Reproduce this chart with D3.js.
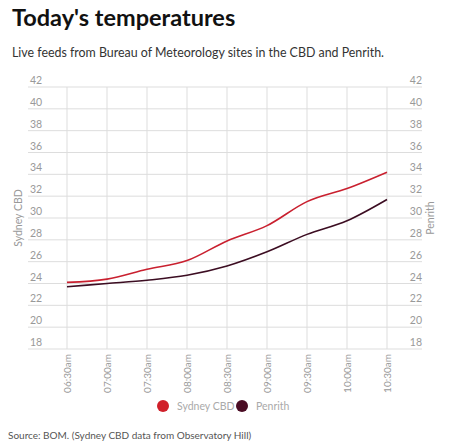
<!DOCTYPE html>
<html>
<head>
<meta charset="utf-8">
<script src="https://cdn.jsdelivr.net/npm/d3@7"></script>
<style>
  body { margin: 0; background: #fff; }
  svg { display: block; font-family: Lato, "Open Sans", sans-serif; }
</style>
</head>
<body>
<svg id="chart"></svg>
<script>
const times = ["06:30am", "07:00am", "07:30am", "08:00am", "08:30am", "09:00am", "09:30am", "10:00am", "10:30am"];
const sydneyCBD = [24.1, 24.4, 25.3, 26.1, 27.9, 29.3, 31.5, 32.7, 34.2];
const penrith = [23.7, 24.0, 24.3, 24.75, 25.6, 26.9, 28.5, 29.75, 31.7];
const yTicks = [18, 20, 22, 24, 26, 28, 30, 32, 34, 36, 38, 40, 42];

const width = 450, height = 448;
const margin = { top: 87, bottom: 99, left: 67, right: 62 };

const svg = d3.select("#chart").attr("width", width).attr("height", height);

// title and subtitle
svg.append("text")
  .attr("x", 12).attr("y", 26)
  .style("font-size", "23.5px").style("font-weight", 700).attr("fill", "#111")
  .text("Today's temperatures");

svg.append("text")
  .attr("x", 12).attr("y", 57)
  .style("font-size", "12.4px").attr("fill", "#333")
  .text("Live feeds from Bureau of Meteorology sites in the CBD and Penrith.");

const x = d3.scalePoint()
  .domain(times)
  .range([margin.left, width - margin.right - 1]);

const y = d3.scaleLinear()
  .domain([18, 42])
  .range([height - margin.bottom, margin.top]);

// horizontal grid
svg.append("g")
  .selectAll("line")
  .data(yTicks)
  .enter().append("line")
  .attr("x1", 28).attr("x2", 422)
  .attr("y1", d => y(d)).attr("y2", d => y(d))
  .attr("stroke", "#ddd").attr("stroke-width", 1);

// vertical grid
svg.append("g")
  .selectAll("line")
  .data(times)
  .enter().append("line")
  .attr("x1", d => x(d)).attr("x2", d => x(d))
  .attr("y1", y(42)).attr("y2", y(18))
  .attr("stroke", "#ddd").attr("stroke-width", 1);

// left and right tick labels
svg.append("g")
  .selectAll("text")
  .data(yTicks)
  .enter().append("text")
  .attr("x", 30).attr("y", d => y(d) - 3)
  .style("font-size", "10.5px").attr("fill", "#999")
  .text(d => d);

svg.append("g")
  .selectAll("text")
  .data(yTicks)
  .enter().append("text")
  .attr("x", 422).attr("y", d => y(d) - 3)
  .attr("text-anchor", "end")
  .style("font-size", "10.5px").attr("fill", "#999")
  .text(d => d);

// axis titles
svg.append("text")
  .attr("transform", `translate(22,${(y(42) + y(18)) / 2}) rotate(-90)`)
  .attr("text-anchor", "middle")
  .style("font-size", "10.5px").attr("fill", "#999")
  .text("Sydney CBD");

svg.append("text")
  .attr("transform", `translate(434,${(y(42) + y(18)) / 2}) rotate(-90)`)
  .attr("text-anchor", "middle")
  .style("font-size", "10.5px").attr("fill", "#999")
  .text("Penrith");

// x tick labels
svg.append("g")
  .selectAll("text")
  .data(times)
  .enter().append("text")
  .attr("transform", d => `translate(${x(d) + 3.5},${y(18) + 5}) rotate(-90)`)
  .attr("text-anchor", "end")
  .style("font-size", "10px").attr("fill", "#999")
  .text(d => d);

// lines
const line = d3.line()
  .x((d, i) => x(times[i]))
  .y(d => y(d))
  .curve(d3.curveMonotoneX);

svg.append("path")
  .datum(penrith)
  .attr("d", line)
  .attr("fill", "none")
  .attr("stroke", "#3c0d22")
  .attr("stroke-width", 1.6);

svg.append("path")
  .datum(sydneyCBD)
  .attr("d", line)
  .attr("fill", "none")
  .attr("stroke", "#c9202f")
  .attr("stroke-width", 1.6);

// legend
const legend = svg.append("g").attr("transform", "translate(163,406)");
legend.append("circle").attr("cx", 0).attr("cy", 0).attr("r", 6).attr("fill", "#d0202a");
legend.append("text").attr("x", 14).attr("y", 4)
  .style("font-size", "10.5px").attr("fill", "#aaa").text("Sydney CBD");
legend.append("circle").attr("cx", 79).attr("cy", 0).attr("r", 6).attr("fill", "#4a0c24");
legend.append("text").attr("x", 93).attr("y", 4)
  .style("font-size", "10.5px").attr("fill", "#aaa").text("Penrith");

// source
svg.append("text")
  .attr("x", 8).attr("y", 439)
  .style("font-size", "10px").attr("fill", "#555")
  .text("Source: BOM. (Sydney CBD data from Observatory Hill)");
</script>
</body>
</html>
